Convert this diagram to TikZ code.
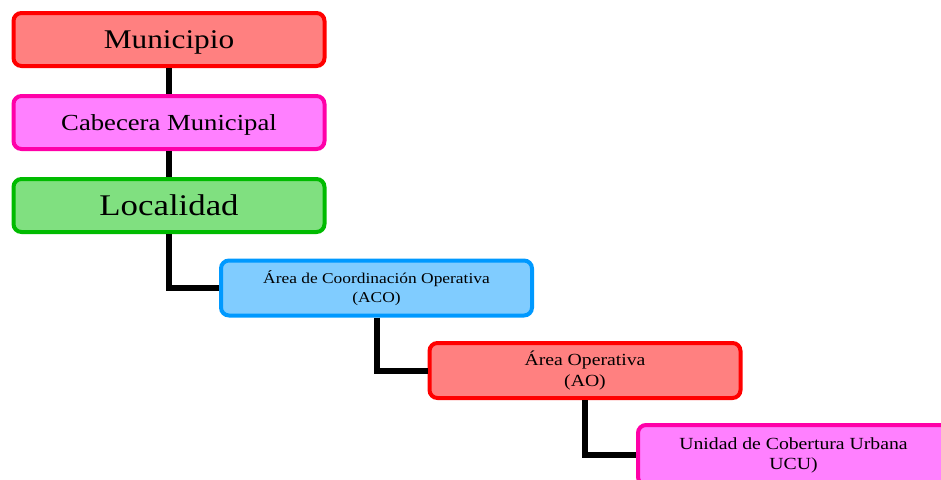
\documentclass[tikz,border=0pt]{standalone}
\usepackage{fontspec}
\setmainfont[FakeStretch=1.16]{Liberation Serif}
\definecolor{redfill}{HTML}{FF8080}
\definecolor{redline}{HTML}{FF0000}
\definecolor{pinkfill}{HTML}{FF80FF}
\definecolor{pinkline}{HTML}{FF00A8}
\definecolor{greenfill}{HTML}{80E080}
\definecolor{greenline}{HTML}{00BB00}
\definecolor{bluefill}{HTML}{80CCFF}
\definecolor{blueline}{HTML}{0099FF}
\begin{document}
\begin{tikzpicture}[x=1pt,y=-1pt,
  box/.style={rectangle,rounded corners=8pt,line width=4pt,minimum width=311pt,minimum height=53pt,inner sep=0pt,align=center,text=black},
  single/.style={text depth=0pt},
  redbox/.style={box,fill=redfill,draw=redline},
  pinkbox/.style={box,fill=pinkfill,draw=pinkline},
  greenbox/.style={box,fill=greenfill,draw=greenline},
  bluebox/.style={box,fill=bluefill,draw=blueline},
  conn/.style={line width=6pt,draw=black}]
\useasboundingbox (0,0) rectangle (941,479);
\clip (0,0) rectangle (941,479);
\node[redbox,single,font=\fontsize{27}{30}\selectfont] (mun) at (169,39.5) {Municipio};
\node[pinkbox,single,font=\fontsize{23}{26}\selectfont] (cab) at (169,122.5) {Cabecera Municipal};
\node[greenbox,single,font=\fontsize{30}{33}\selectfont] (loc) at (169,205.5) {Localidad};
\node[bluebox,minimum height=55pt,font=\fontsize{15}{19}\selectfont] (aco) at (376.5,288) {Área de Coordinación Operativa\\(ACO)};
\node[redbox,minimum height=55pt,font=\fontsize{17}{21}\selectfont] (ao) at (585,370.5) {Área Operativa\\(AO)};
\node[pinkbox,minimum height=60pt,font=\fontsize{17}{20}\selectfont] (ucu) at (793.5,455) {Unidad de Cobertura Urbana\\UCU)};
\draw[conn] (mun.south) -- (cab.north);
\draw[conn] (cab.south) -- (loc.north);
\draw[conn] (loc.south) |- (aco.west);
\draw[conn] (aco.south) |- (ao.west);
\draw[conn] (ao.south) |- (ucu.west);
\end{tikzpicture}
\end{document}
